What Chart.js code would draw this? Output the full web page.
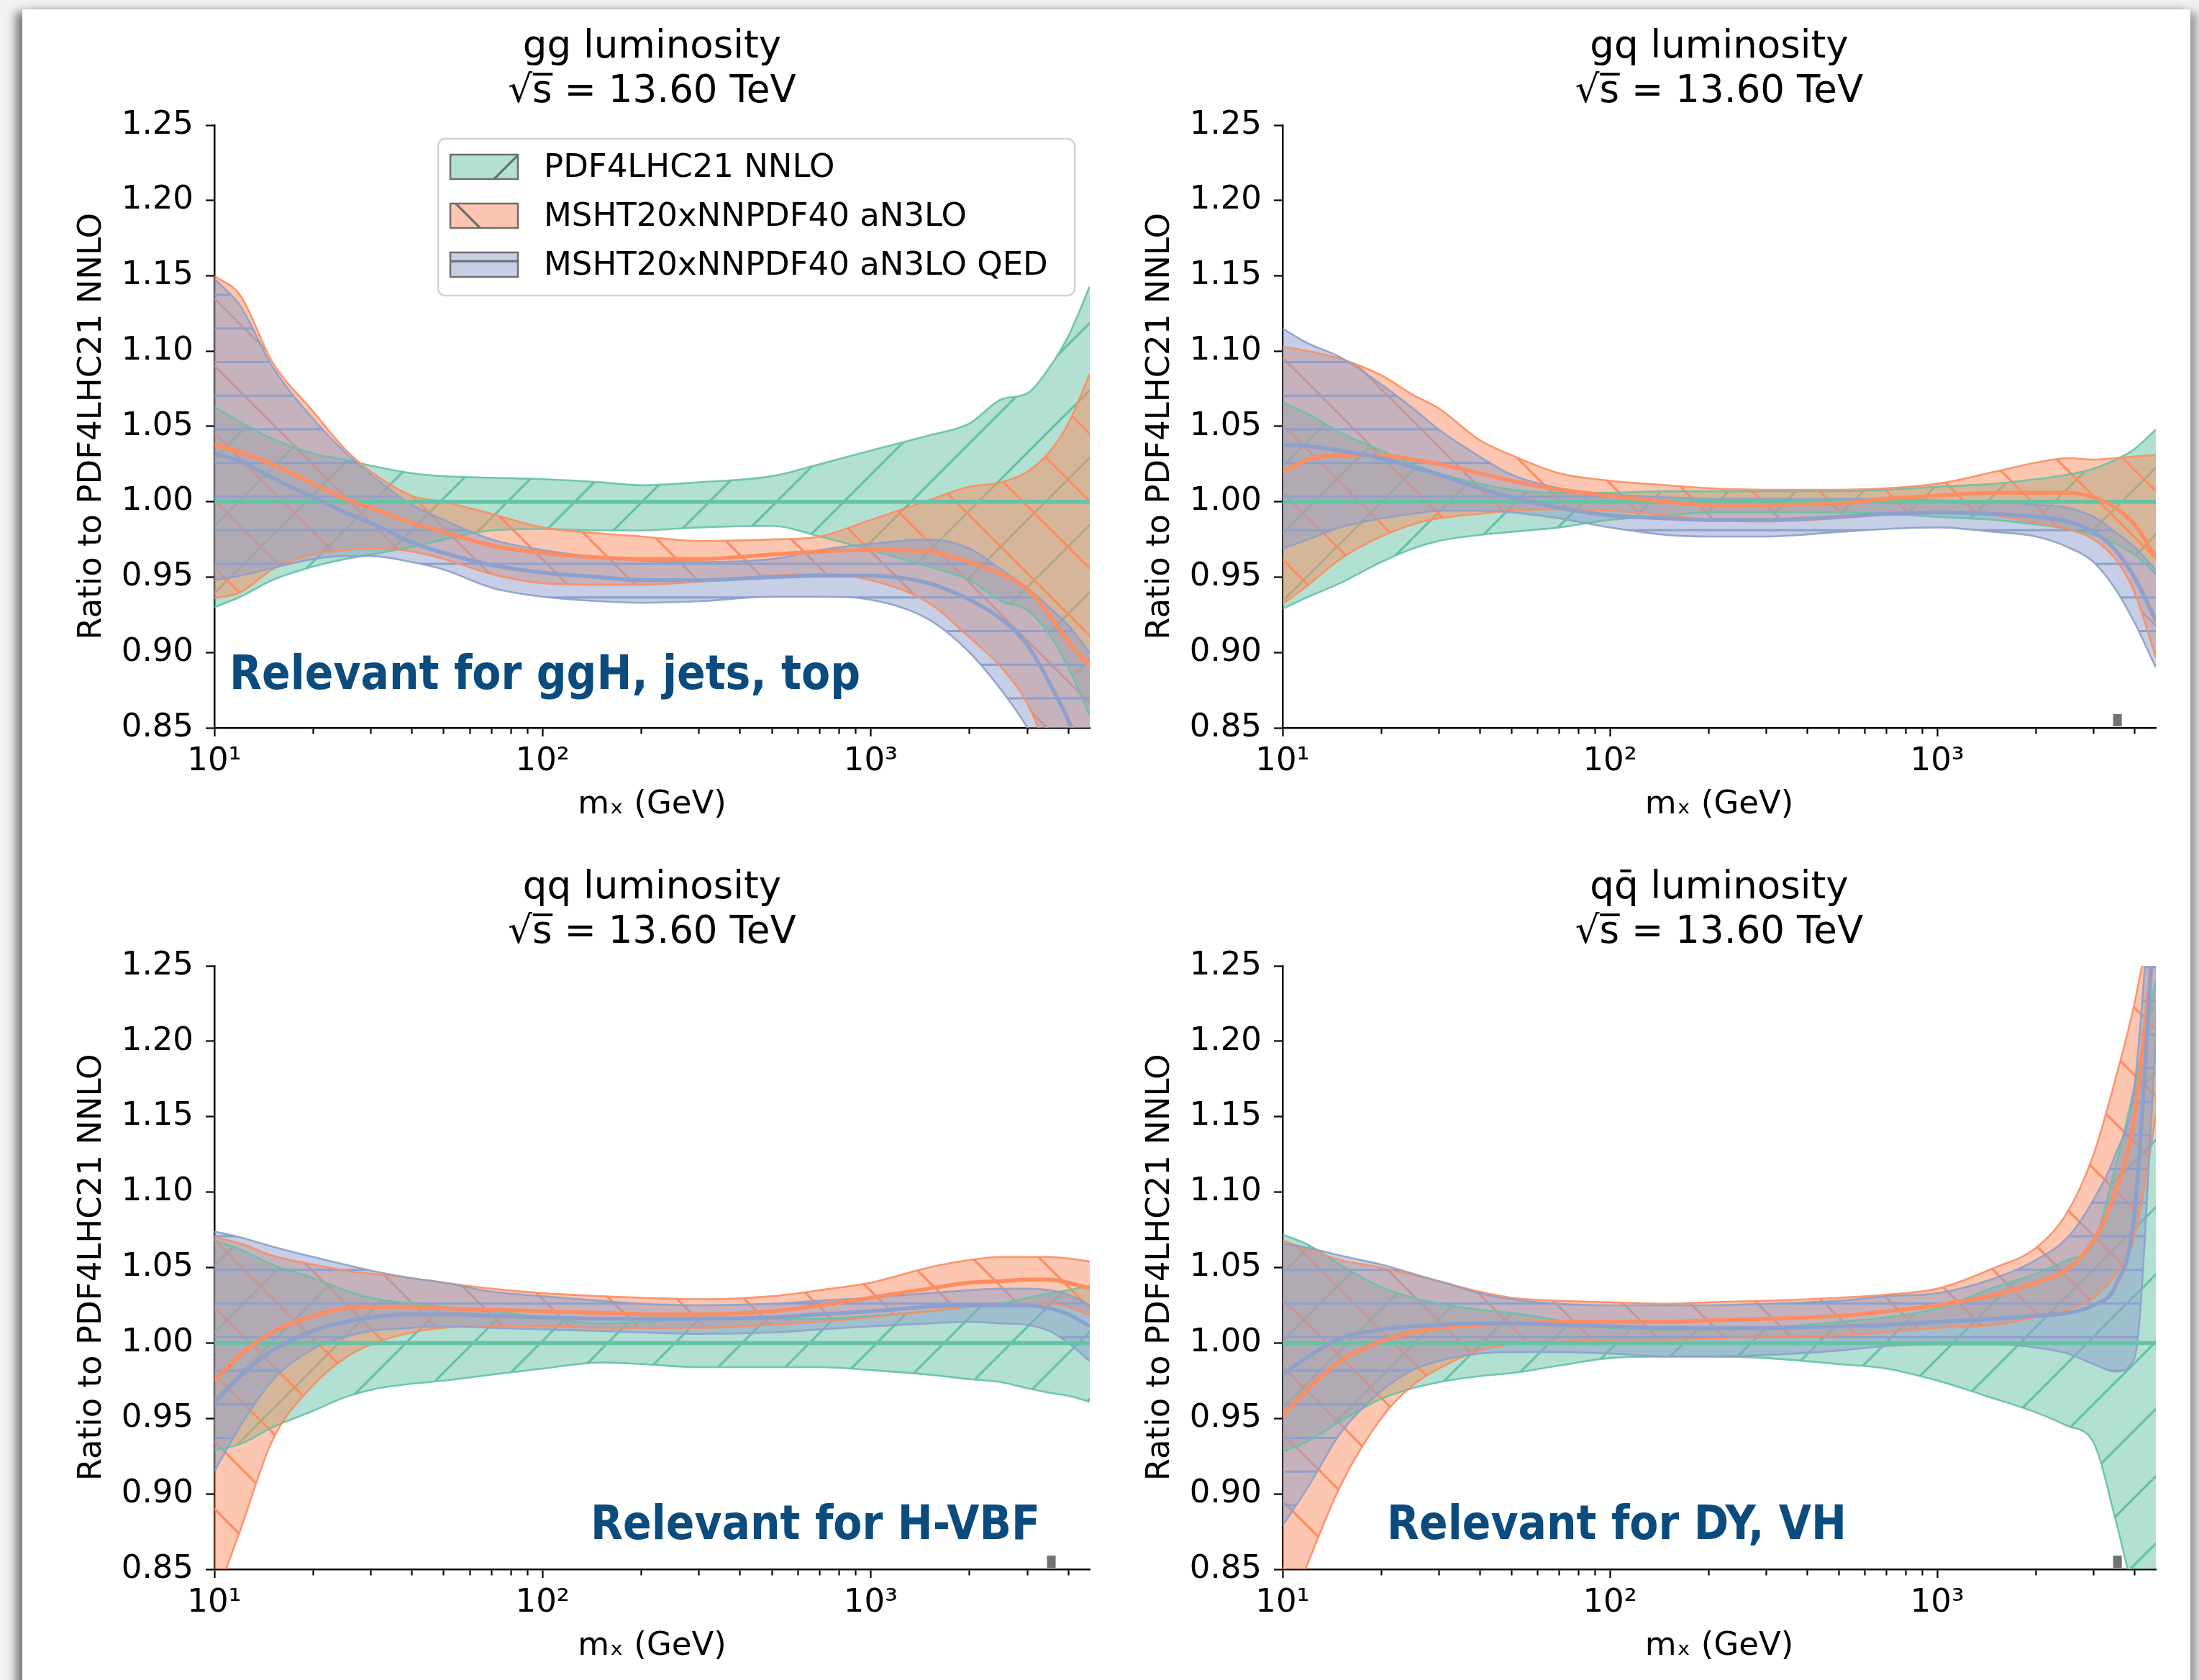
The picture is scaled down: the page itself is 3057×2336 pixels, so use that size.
<!DOCTYPE html>
<html>
<head>
<meta charset="utf-8">
<script src="https://cdn.jsdelivr.net/npm/chart.js@4.4.1/dist/chart.umd.min.js"></script>
<style>
  html, body { margin: 0; padding: 0; width: 3057px; height: 2336px; overflow: hidden; background: #f1f1f1; }
  #sheet { position: absolute; left: 31px; top: 13px; width: 3014px; height: 2400px; background: #fff;
           box-shadow: -9px 4px 12px rgba(0,0,0,0.5), 9px 4px 12px rgba(0,0,0,0.35); }
  canvas { position: absolute; }
</style>
</head>
<body>
<div id="sheet"></div>
<canvas id="ggChart"></canvas>
<canvas id="gqChart"></canvas>
<canvas id="qqChart"></canvas>
<canvas id="qqbarChart"></canvas>
<script>
// ---- data (ratio to PDF4LHC21 NNLO) ----
const mX = [10, 12, 15, 20, 25, 30, 40, 50, 70, 100, 150, 200, 300, 500, 700, 1000, 1500, 2000, 2500, 3000, 3500, 4000, 4650];
const xTickValues = [10,20,30,40,50,60,70,80,90,100,200,300,400,500,600,700,800,900,1000,2000,3000,4000];
const decadeLabels = {10: '10¹', 100: '10²', 1000: '10³'};
const yTickValues = [0.85, 0.90, 0.95, 1.00, 1.05, 1.10, 1.15, 1.20, 1.25];
const seriesLabels = ['PDF4LHC21 NNLO', 'MSHT20xNNPDF40 aN3LO', 'MSHT20xNNPDF40 aN3LO QED'];
const refRatio = 1.0;
const markerMass = 3550;

// gg
const ggPdf4lhcUp = [1.063, 1.053, 1.042, 1.032, 1.028, 1.024, 1.019, 1.017, 1.016, 1.015, 1.013, 1.011, 1.013, 1.017, 1.025, 1.034, 1.044, 1.052, 1.068, 1.072, 1.089, 1.110, 1.143];
const ggPdf4lhcDn = [0.930, 0.937, 0.948, 0.957, 0.962, 0.965, 0.970, 0.975, 0.981, 0.982, 0.981, 0.981, 0.983, 0.984, 0.977, 0.968, 0.957, 0.948, 0.934, 0.928, 0.912, 0.890, 0.858];
const ggN3loUp    = [1.150, 1.137, 1.093, 1.060, 1.035, 1.020, 1.004, 1.000, 0.992, 0.983, 0.979, 0.977, 0.974, 0.975, 0.977, 0.988, 1.001, 1.010, 1.013, 1.020, 1.033, 1.052, 1.085];
const ggN3loMid   = [1.038, 1.033, 1.025, 1.012, 1.002, 0.996, 0.986, 0.980, 0.971, 0.966, 0.963, 0.962, 0.962, 0.965, 0.967, 0.968, 0.967, 0.960, 0.952, 0.942, 0.925, 0.907, 0.891];
const ggN3loDn    = [0.936, 0.940, 0.955, 0.965, 0.968, 0.969, 0.967, 0.962, 0.952, 0.946, 0.945, 0.945, 0.947, 0.951, 0.952, 0.948, 0.933, 0.910, 0.890, 0.866, 0.830, 0.780, 0.700];
const ggQedUp     = [1.148, 1.130, 1.090, 1.055, 1.033, 1.018, 0.998, 0.988, 0.975, 0.968, 0.963, 0.961, 0.960, 0.962, 0.968, 0.972, 0.975, 0.969, 0.955, 0.943, 0.930, 0.918, 0.900];
const ggQedMid    = [1.032, 1.027, 1.016, 1.003, 0.993, 0.986, 0.973, 0.966, 0.958, 0.953, 0.950, 0.948, 0.948, 0.950, 0.951, 0.951, 0.946, 0.935, 0.922, 0.905, 0.880, 0.855, 0.820];
const ggQedDn     = [0.948, 0.951, 0.956, 0.962, 0.964, 0.964, 0.960, 0.955, 0.943, 0.937, 0.934, 0.933, 0.934, 0.937, 0.937, 0.935, 0.922, 0.900, 0.875, 0.850, 0.820, 0.790, 0.750];

// gq
const gqPdf4lhcUp = [1.066, 1.058, 1.046, 1.034, 1.025, 1.019, 1.012, 1.008, 1.006, 1.006, 1.007, 1.007, 1.007, 1.007, 1.008, 1.010, 1.012, 1.015, 1.018, 1.022, 1.028, 1.035, 1.048];
const gqPdf4lhcDn = [0.929, 0.937, 0.946, 0.960, 0.969, 0.974, 0.978, 0.980, 0.983, 0.988, 0.991, 0.993, 0.993, 0.993, 0.992, 0.990, 0.988, 0.985, 0.982, 0.978, 0.972, 0.965, 0.952];
const gqN3loUp    = [1.103, 1.100, 1.095, 1.084, 1.071, 1.062, 1.041, 1.031, 1.019, 1.014, 1.011, 1.009, 1.008, 1.008, 1.009, 1.012, 1.020, 1.026, 1.029, 1.028, 1.029, 1.030, 1.031];
const gqN3loMid   = [1.020, 1.028, 1.031, 1.031, 1.028, 1.025, 1.019, 1.014, 1.008, 1.004, 1.000, 0.998, 0.998, 0.999, 1.002, 1.004, 1.006, 1.006, 1.006, 1.003, 0.996, 0.985, 0.963];
const gqN3loDn    = [0.932, 0.945, 0.962, 0.977, 0.985, 0.989, 0.992, 0.994, 0.995, 0.994, 0.991, 0.988, 0.987, 0.989, 0.992, 0.993, 0.991, 0.986, 0.982, 0.975, 0.962, 0.940, 0.897];
const gqQedUp     = [1.115, 1.105, 1.096, 1.078, 1.062, 1.048, 1.030, 1.018, 1.009, 1.005, 1.003, 1.002, 1.002, 1.002, 1.002, 1.001, 1.000, 0.998, 0.996, 0.990, 0.980, 0.970, 0.955];
const gqQedMid    = [1.038, 1.037, 1.034, 1.029, 1.023, 1.018, 1.009, 1.003, 0.996, 0.991, 0.989, 0.988, 0.988, 0.990, 0.992, 0.993, 0.992, 0.990, 0.987, 0.980, 0.968, 0.950, 0.921];
const gqQedDn     = [0.969, 0.975, 0.983, 0.989, 0.992, 0.994, 0.994, 0.993, 0.989, 0.983, 0.978, 0.977, 0.977, 0.980, 0.982, 0.983, 0.980, 0.977, 0.970, 0.960, 0.942, 0.920, 0.890];

// qq
const qqPdf4lhcUp = [1.068, 1.062, 1.052, 1.043, 1.035, 1.030, 1.026, 1.024, 1.021, 1.017, 1.013, 1.014, 1.016, 1.016, 1.016, 1.018, 1.021, 1.024, 1.026, 1.030, 1.033, 1.035, 1.038];
const qqPdf4lhcDn = [0.929, 0.933, 0.944, 0.955, 0.964, 0.969, 0.973, 0.975, 0.979, 0.983, 0.987, 0.986, 0.984, 0.984, 0.984, 0.982, 0.979, 0.976, 0.974, 0.970, 0.967, 0.965, 0.961];
const qqN3loUp    = [1.070, 1.066, 1.058, 1.052, 1.048, 1.046, 1.043, 1.040, 1.036, 1.033, 1.031, 1.030, 1.029, 1.031, 1.035, 1.040, 1.050, 1.055, 1.057, 1.057, 1.057, 1.056, 1.054];
const qqN3loMid   = [0.975, 0.992, 1.007, 1.018, 1.023, 1.024, 1.024, 1.023, 1.022, 1.021, 1.020, 1.019, 1.019, 1.021, 1.025, 1.030, 1.036, 1.040, 1.041, 1.042, 1.042, 1.040, 1.036];
const qqN3loDn    = [0.829, 0.876, 0.935, 0.972, 0.990, 0.999, 1.007, 1.010, 1.011, 1.011, 1.010, 1.010, 1.010, 1.012, 1.014, 1.017, 1.021, 1.024, 1.025, 1.026, 1.026, 1.024, 1.018];
const qqQedUp     = [1.074, 1.070, 1.064, 1.057, 1.052, 1.048, 1.043, 1.040, 1.034, 1.031, 1.028, 1.026, 1.025, 1.026, 1.028, 1.030, 1.033, 1.035, 1.036, 1.036, 1.035, 1.032, 1.025];
const qqQedMid    = [0.960, 0.978, 0.995, 1.008, 1.014, 1.017, 1.019, 1.019, 1.018, 1.017, 1.016, 1.016, 1.016, 1.017, 1.019, 1.021, 1.024, 1.025, 1.025, 1.025, 1.023, 1.019, 1.011];
const qqQedDn     = [0.915, 0.945, 0.975, 0.996, 1.004, 1.008, 1.010, 1.011, 1.010, 1.009, 1.008, 1.007, 1.006, 1.007, 1.009, 1.011, 1.013, 1.014, 1.013, 1.012, 1.008, 1.000, 0.988];

// qqbar
const qqbarPdf4lhcUp = [1.072, 1.065, 1.052, 1.037, 1.030, 1.026, 1.022, 1.020, 1.015, 1.010, 1.009, 1.009, 1.010, 1.014, 1.017, 1.023, 1.037, 1.046, 1.055, 1.066, 1.117, 1.170, 1.240];
const qqbarPdf4lhcDn = [0.928, 0.935, 0.948, 0.963, 0.970, 0.974, 0.978, 0.980, 0.985, 0.990, 0.991, 0.991, 0.990, 0.986, 0.983, 0.975, 0.963, 0.954, 0.945, 0.934, 0.883, 0.830, 0.760];
const qqbarN3loUp    = [1.068, 1.062, 1.055, 1.050, 1.045, 1.041, 1.034, 1.030, 1.028, 1.027, 1.026, 1.027, 1.028, 1.030, 1.032, 1.036, 1.050, 1.063, 1.087, 1.125, 1.175, 1.225, 1.300];
const qqbarN3loMid   = [0.952, 0.970, 0.988, 1.001, 1.007, 1.010, 1.012, 1.013, 1.014, 1.014, 1.014, 1.015, 1.016, 1.018, 1.021, 1.025, 1.032, 1.040, 1.049, 1.068, 1.100, 1.150, 1.280];
const qqbarN3loDn    = [0.810, 0.855, 0.905, 0.950, 0.972, 0.983, 0.995, 0.999, 1.001, 1.002, 1.002, 1.003, 1.004, 1.005, 1.007, 1.010, 1.012, 1.017, 1.022, 1.030, 1.045, 1.070, 1.150];
const qqbarQedUp     = [1.066, 1.063, 1.058, 1.052, 1.046, 1.041, 1.033, 1.029, 1.026, 1.025, 1.025, 1.025, 1.026, 1.028, 1.031, 1.033, 1.043, 1.055, 1.070, 1.095, 1.125, 1.170, 1.350];
const qqbarQedMid    = [0.979, 0.991, 1.003, 1.009, 1.011, 1.012, 1.013, 1.013, 1.012, 1.011, 1.010, 1.010, 1.010, 1.011, 1.012, 1.014, 1.016, 1.018, 1.020, 1.025, 1.038, 1.086, 1.300];
const qqbarQedDn     = [0.879, 0.905, 0.940, 0.968, 0.982, 0.988, 0.993, 0.994, 0.994, 0.993, 0.991, 0.991, 0.992, 0.995, 0.998, 0.999, 0.999, 0.997, 0.993, 0.986, 0.981, 0.990, 1.200];

// ---- look ----
const GREEN = [102, 194, 165], ORANGE = [252, 141, 98], BLUE = [141, 160, 203];
const rgba = (c, a) => `rgba(${c[0]},${c[1]},${c[2]},${a})`;
const FONT = 'DejaVu Sans';
const AXIS_W = 260;     // room kept left of each plot for the y axis
const TOP_ROOM = 174;   // canvas top -> plot top
const X_ROOM = 150;     // plot bottom -> canvas bottom

const panels = [
  {id: 'ggChart', name: 'gg luminosity', left: 298, top: 174, w: 1217, h: 838,
   bands: [[ggPdf4lhcDn, ggPdf4lhcUp], [ggN3loDn, ggN3loUp], [ggQedDn, ggQedUp]], mids: [ggN3loMid, ggQedMid],
   note: {text: 'Relevant for ggH, jets, top', dx: 21, dy: 784}, legend: true, marker: false},
  {id: 'gqChart', name: 'gq luminosity', left: 1783, top: 174, w: 1214, h: 838,
   bands: [[gqPdf4lhcDn, gqPdf4lhcUp], [gqN3loDn, gqN3loUp], [gqQedDn, gqQedUp]], mids: [gqN3loMid, gqQedMid],
   note: null, legend: false, marker: true},
  {id: 'qqChart', name: 'qq luminosity', left: 298, top: 1343, w: 1217, h: 839,
   bands: [[qqPdf4lhcDn, qqPdf4lhcUp], [qqN3loDn, qqN3loUp], [qqQedDn, qqQedUp]], mids: [qqN3loMid, qqQedMid],
   note: {text: 'Relevant for H-VBF', dx: 523, dy: 797}, legend: false, marker: true},
  {id: 'qqbarChart', name: 'qq\u0304 luminosity', left: 1783, top: 1343, w: 1214, h: 839,
   bands: [[qqbarPdf4lhcDn, qqbarPdf4lhcUp], [qqbarN3loDn, qqbarN3loUp], [qqbarQedDn, qqbarQedUp]], mids: [qqbarN3loMid, qqbarQedMid],
   note: {text: 'Relevant for DY, VH', dx: 145, dy: 797}, legend: false, marker: true},
];

// hatch tiles, anchored to the page so every panel shares the same phase
const TILE = 187;
function hatch(ctx, fill, line, kind, offX, offY) {
  const c = document.createElement('canvas');
  c.width = c.height = TILE;
  const g = c.getContext('2d');
  g.fillStyle = fill;
  g.fillRect(0, 0, TILE, TILE);
  g.strokeStyle = line;
  g.lineWidth = 3.2;
  g.beginPath();
  const p = TILE / 2;
  if (kind === '/') {
    for (let k = 0.75 - p; k < 2 * TILE + p; k += p) { g.moveTo(k, 0); g.lineTo(k - TILE, TILE); }
  } else if (kind === '\\') {
    for (let k = 70 - 2 * TILE; k < TILE + p; k += p) { g.moveTo(k, 0); g.lineTo(k + TILE, TILE); }
  } else {
    for (let k = 36 - TILE / 4; k < TILE + TILE / 4; k += TILE / 4) { g.moveTo(0, k); g.lineTo(TILE, k); }
  }
  g.stroke();
  const pat = ctx.createPattern(c, 'repeat');
  pat.setTransform(new DOMMatrix([1, 0, 0, 1, -offX, -offY]));
  return pat;
}

const pts = arr => arr.map((y, i) => ({x: mX[i], y}));

function decor(panel, legendPats) {
  return {
    id: 'decor',
    afterDatasetsDraw(chart) {
      const {ctx, chartArea: a, scales: {x}} = chart;
      ctx.save();
      if (panel.marker) {
        const px = x.getPixelForValue(markerMass);
        ctx.fillStyle = 'rgba(100,100,100,0.9)';
        ctx.fillRect(px - 6, a.bottom - 19, 12, 17);
      }
      if (panel.note) {
        ctx.font = 'bold 65px "DejaVu Sans Condensed", "Liberation Sans Narrow", sans-serif';
        ctx.fillStyle = '#0b4b7d';
        ctx.textAlign = 'left';
        ctx.textBaseline = 'alphabetic';
        ctx.fillText(panel.note.text, a.left + panel.note.dx, a.top + panel.note.dy);
      }
      if (panel.legend) {
        const bw = 885, bh = 218;
        const bx = a.right - 21 - bw, by = a.top + 19;
        ctx.beginPath();
        ctx.roundRect(bx, by, bw, bh, 10);
        ctx.fillStyle = 'rgba(255,255,255,0.8)';
        ctx.fill();
        ctx.lineWidth = 2.5;
        ctx.strokeStyle = '#d2d2d2';
        ctx.stroke();
        seriesLabels.forEach((lab, i) => {
          const cy = by + 39 + i * 68;
          ctx.fillStyle = legendPats[i];
          ctx.fillRect(bx + 17, cy - 17, 94, 34);
          ctx.strokeStyle = '#6e6e6e';
          ctx.lineWidth = 2.5;
          ctx.strokeRect(bx + 17, cy - 17, 94, 34);
          ctx.fillStyle = '#000';
          ctx.font = `45px "${FONT}"`;
          ctx.textAlign = 'left';
          ctx.textBaseline = 'middle';
          ctx.fillText(lab, bx + 147, cy + 2);
        });
      }
      ctx.restore();
    }
  };
}

panels.forEach(panel => {
  const cv = document.getElementById(panel.id);
  const cLeft = panel.left - AXIS_W, cTop = panel.top - TOP_ROOM;
  cv.width = AXIS_W + panel.w + 20;
  cv.height = TOP_ROOM + panel.h + X_ROOM;
  cv.style.left = cLeft + 'px';
  cv.style.top = cTop + 'px';
  const ctx = cv.getContext('2d');

  const colors = [GREEN, ORANGE, BLUE];
  const kinds = ['/', '\\', '-'];
  const bandPats = colors.map((c, i) => hatch(ctx, rgba(c, 0.5), rgba(c, 1), kinds[i], cLeft, cTop));
  const legendPats = colors.map((c, i) => hatch(ctx, rgba(c, 0.5), '#6e6e6e', kinds[i], cLeft, cTop));

  const datasets = [];
  panel.bands.forEach(([dn, up], i) => {
    const order = 6 - i;
    datasets.push({label: seriesLabels[i] + ' low', data: pts(dn), borderColor: rgba(colors[i], 0.9), borderWidth: 2.6, fill: false, order});
    datasets.push({label: seriesLabels[i], data: pts(up), borderColor: rgba(colors[i], 0.9), borderWidth: 2.6,
                   fill: '-1', backgroundColor: bandPats[i], order});
  });
  datasets.push({label: seriesLabels[0] + ' central', data: [{x: mX[0], y: refRatio}, {x: mX[mX.length - 1], y: refRatio}],
                 borderColor: rgba(GREEN, 1), borderWidth: 5.5, fill: false, order: 3});
  datasets.push({label: seriesLabels[1] + ' central', data: pts(panel.mids[0]), borderColor: rgba(ORANGE, 1), borderWidth: 5.5, fill: false, order: 2});
  datasets.push({label: seriesLabels[2] + ' central', data: pts(panel.mids[1]), borderColor: rgba(BLUE, 1), borderWidth: 5.5, fill: false, order: 1});

  new Chart(ctx, {
    type: 'line',
    data: {datasets},
    options: {
      responsive: false,
      animation: false,
      devicePixelRatio: 1,
      layout: {padding: {top: 35, left: 0, right: 20, bottom: 0}},
      elements: {point: {radius: 0}, line: {cubicInterpolationMode: 'monotone'}},
      plugins: {
        legend: {display: false},
        tooltip: {enabled: false},
        filler: {drawTime: 'beforeDatasetsDraw'},
        title: {
          display: true, fullSize: false,
          text: [panel.name, '\u221As\u0305 = 13.60 TeV'],
          color: '#000',
          font: {family: FONT, size: 53, weight: 'normal', lineHeight: 62 / 53},
          padding: {top: 0, bottom: 15}
        }
      },
      scales: {
        x: {
          type: 'logarithmic', min: 10, max: 4650,
          afterBuildTicks: s => { s.ticks = xTickValues.map(v => ({value: v, major: v in decadeLabels})); },
          afterFit: s => { s.height = X_ROOM; },
          ticks: {autoSkip: false, maxRotation: 0, minRotation: 0, padding: 8, color: '#000',
                  font: {family: FONT, size: 45}, callback: v => decadeLabels[v] || ''},
          grid: {drawOnChartArea: false, tickLength: 12, tickWidth: 2.2, tickColor: '#000',
                 tickBorderDash: c => (c.tick && c.tick.value in decadeLabels) ? [] : [7, 40]},
          border: {color: '#000', width: 2.5},
          title: {display: true, text: 'm\u2093 (GeV)', color: '#000', font: {family: FONT, size: 45}, padding: {top: 0, bottom: 16}}
        },
        y: {
          min: 0.85, max: 1.25,
          afterBuildTicks: s => { s.ticks = yTickValues.map(v => ({value: v})); },
          afterFit: s => { s.width = AXIS_W; },
          ticks: {padding: 17, color: '#000', font: {family: FONT, size: 45}, callback: v => v.toFixed(2)},
          grid: {drawOnChartArea: false, tickLength: 12, tickWidth: 2.2, tickColor: '#000'},
          border: {color: '#000', width: 2.5},
          title: {display: true, text: 'Ratio to PDF4LHC21 NNLO', color: '#000', font: {family: FONT, size: 45}, padding: {top: 63, bottom: 0}}
        }
      }
    },
    plugins: [decor(panel, legendPats)]
  });
});
</script>
</body>
</html>
